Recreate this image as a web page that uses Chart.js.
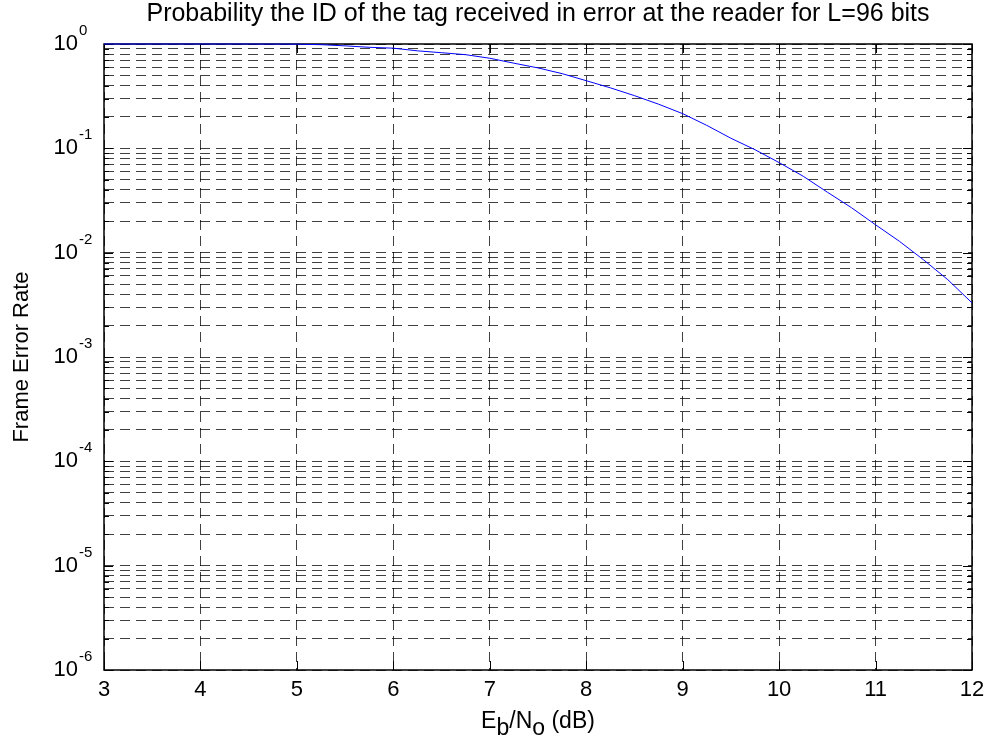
<!DOCTYPE html>
<html>
<head>
<meta charset="utf-8">
<title>Frame Error Rate</title>
<script src="https://cdn.jsdelivr.net/npm/chart.js@4.4.0/dist/chart.umd.min.js"></script>
<style>
body { margin: 0; background: #fff; }
</style>
</head>
<body>
<canvas id="ferChart" width="990" height="745"></canvas>
<script>
// Eb/No (dB) and frame error rate
const ebno = [3, 3.25, 3.5, 3.75, 4, 4.25, 4.5, 4.75, 5, 5.25, 5.5, 5.75,
              6, 6.25, 6.5, 6.75, 7, 7.25, 7.5, 7.75, 8, 8.25, 8.5, 8.75,
              9, 9.25, 9.5, 9.75, 10, 10.25, 10.5, 10.75, 11, 11.25, 11.5, 11.75, 12];
const fer = [1.0, 1.0, 1.0, 1.0, 1.0, 1.0, 0.999, 0.998, 0.996, 0.985, 0.96, 0.93,
             0.912, 0.86, 0.825, 0.79, 0.73, 0.655, 0.59, 0.52, 0.445, 0.38, 0.32, 0.265,
             0.215, 0.166, 0.125, 0.097, 0.073, 0.054, 0.038, 0.027, 0.0185, 0.0128, 0.0085, 0.0055, 0.0033];

const xTicks = [3, 4, 5, 6, 7, 8, 9, 10, 11, 12];
const yDecades = [-6, -5, -4, -3, -2, -1, 0]; // tick labels 10^n

const titleText = 'Probability the ID of the tag received in error at the reader for L=96 bits';
const yTitle = 'Frame Error Rate';

const FONT = '"Liberation Sans", Arial, sans-serif';

// 1..9 x 10^n in every decade -> dashed minor grid like matlab
function logGridValues() {
	let v = [];
	for (let i = 0; i < yDecades.length; i++) {
		let p = Math.pow(10, yDecades[i]);
		v.push(p);
		if (i < yDecades.length - 1) {
			for (let m = 2; m <= 9; m++) v.push(m * p);
		}
	}
	return v;
}

function isDecade(v) {
	let l = Math.log10(v);
	return Math.abs(l - Math.round(l)) < 1e-9;
}

function line(ctx, x1, y1, x2, y2) {
	ctx.beginPath();
	ctx.moveTo(x1, y1);
	ctx.lineTo(x2, y2);
	ctx.stroke();
}

// frame, inward ticks and all the text
const matlabAxes = {
	id: 'matlabAxes',
	beforeDatasetsDraw(chart) {
		const { ctx, chartArea: a, scales: { x, y } } = chart;
		ctx.save();
		ctx.strokeStyle = '#000';
		ctx.lineWidth = 1;
		xTicks.forEach(v => {
			let px = Math.round(x.getPixelForValue(v)) + 0.5;
			line(ctx, px, a.bottom, px, a.bottom - 9);
			line(ctx, px, a.top, px, a.top + 9);
		});
		y.ticks.forEach(t => {
			let py = Math.round(y.getPixelForValue(t.value)) + 0.5;
			let len = isDecade(t.value) ? 9 : 5;
			line(ctx, a.left, py, a.left + len, py);
			line(ctx, a.right, py, a.right - len, py);
		});
		ctx.lineWidth = 1.5;
		ctx.strokeRect(a.left, a.top, a.right - a.left, a.bottom - a.top);
		ctx.restore();
	},
	afterDraw(chart) {
		const { ctx, chartArea: a, scales: { x, y } } = chart;
		ctx.save();
		ctx.fillStyle = '#000';

		// x tick labels
		ctx.font = '22px ' + FONT;
		ctx.textAlign = 'center';
		ctx.textBaseline = 'middle';
		xTicks.forEach(v => ctx.fillText(String(v), x.getPixelForValue(v), a.bottom + 20));

		// y tick labels 10^n
		yDecades.forEach(e => {
			let py = y.getPixelForValue(Math.pow(10, e));
			ctx.font = '22px ' + FONT;
			ctx.textAlign = 'right';
			ctx.fillText('10', a.left - 26, py);
			ctx.font = '15px ' + FONT;
			ctx.textAlign = 'left';
			ctx.fillText(e === 0 ? '0' : '-' + Math.abs(e), a.left - 25, py - 13);
		});

		// title
		ctx.font = '25px ' + FONT;
		ctx.textAlign = 'center';
		ctx.fillText(titleText, (a.left + a.right) / 2, 14);

		// y axis title
		ctx.font = '22px ' + FONT;
		ctx.save();
		ctx.translate(22, (a.top + a.bottom) / 2);
		ctx.rotate(-Math.PI / 2);
		ctx.fillText(yTitle, 0, 0);
		ctx.restore();

		// x axis title with subscripts: E_b/N_o (dB)
		let parts = [['E', 0], ['b', 1], ['/N', 0], ['o', 1], [' (dB)', 0]];
		ctx.font = '23px ' + FONT;
		let widths = parts.map(p => ctx.measureText(p[0]).width);
		let total = widths.reduce((s, w) => s + w, 0);
		let cx = (a.left + a.right) / 2 - total / 2;
		let cy = a.bottom + 52;
		ctx.textAlign = 'left';
		parts.forEach((p, i) => {
			ctx.fillText(p[0], cx, p[1] ? cy + 7 : cy);
			cx += widths[i];
		});
		ctx.restore();
	}
};

const points = ebno.map((v, i) => ({ x: v, y: fer[i] }));

new Chart(document.getElementById('ferChart'), {
	type: 'line',
	data: {
		datasets: [{
			data: points,
			borderColor: '#0000ff',
			borderWidth: 1,
			pointRadius: 0,
			tension: 0,
			fill: false,
			clip: false
		}]
	},
	options: {
		responsive: false,
		animation: false,
		layout: { padding: { left: 104, right: 18, top: 44, bottom: 75 } },
		plugins: { legend: { display: false }, tooltip: { enabled: false } },
		scales: {
			x: {
				type: 'linear',
				min: 3,
				max: 12,
				afterBuildTicks: s => { s.ticks = xTicks.map(v => ({ value: v })); },
				afterFit: s => { s.height = 0; },
				ticks: { display: false },
				grid: { color: 'rgba(0,0,0,0.75)', lineWidth: 1, drawTicks: false },
				border: { display: false, dash: [10, 6] }
			},
			y: {
				type: 'logarithmic',
				min: 1e-6,
				max: 1,
				afterBuildTicks: s => { s.ticks = logGridValues().map(v => ({ value: v })); },
				afterFit: s => { s.width = 0; },
				ticks: { display: false },
				grid: { color: 'rgba(0,0,0,0.75)', lineWidth: 1, drawTicks: false },
				border: { display: false, dash: [10, 6] }
			}
		}
	},
	plugins: [matlabAxes]
});
</script>
</body>
</html>
